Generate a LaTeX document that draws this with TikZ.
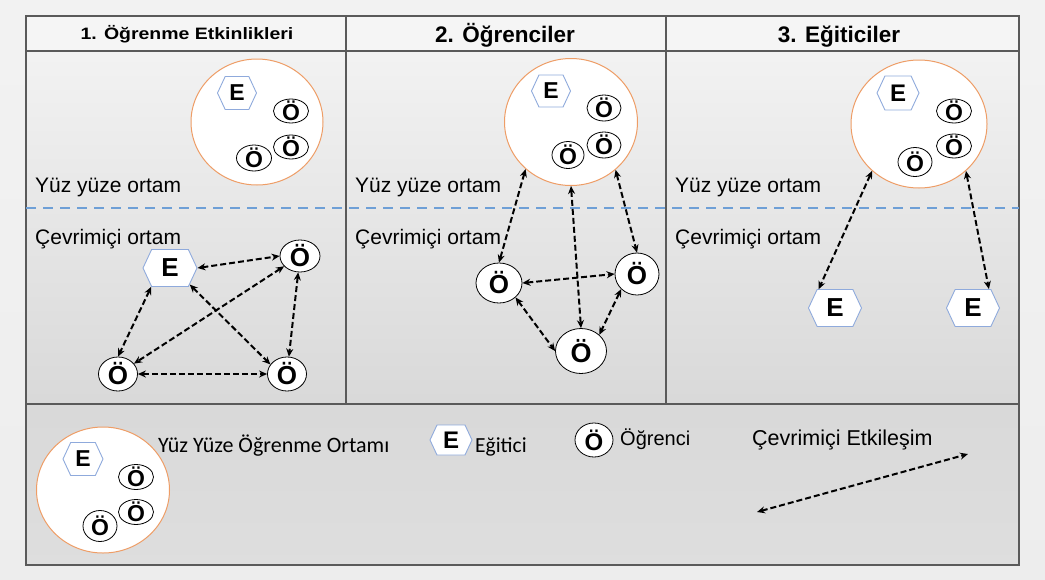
\documentclass[tikz,border=0pt]{standalone}
\usepackage{fontspec}
\setmainfont{Liberation Sans}
\newfontfamily\calfont{Carlito}
\usetikzlibrary{shapes.geometric,shapes.symbols,arrows.meta,calc}

\definecolor{ringorange}{HTML}{EE9D66}
\definecolor{hexblue}{HTML}{8FAADC}
\definecolor{splitblue}{HTML}{6E9FD6}
\definecolor{framegray}{HTML}{5A5A5A}

\begin{document}
\begin{tikzpicture}[x=1pt,y=-1pt,
  frameline/.style={draw=framegray,line width=1.1pt},
  splitline/.style={draw=splitblue,line width=2.4pt,dash pattern=on 10pt off 7pt},
  ring/.style={ellipse,draw=ringorange,fill=white,line width=1pt,inner sep=0pt},
  tutor/.style={signal,signal to=east and west,signal pointer angle=130,
    draw=hexblue,fill=white,line width=0.9pt,inner sep=0pt},
  learner/.style={ellipse,draw=black,fill=white,line width=0.8pt,inner sep=0pt},
  letter/.style={inner sep=0pt,font=\bfseries\fontsize{#1}{#1}\selectfont},
  link/.style={{Stealth[length=8pt,width=7pt]}-{Stealth[length=8pt,width=7pt]},
    line width=2pt,dash pattern=on 6pt off 3pt},
  zone/.style={anchor=base west,inner sep=0pt,font=\fontsize{21}{25}\selectfont},
  head/.style={anchor=base,inner sep=0pt,font=\bfseries\fontsize{22.5}{26}\selectfont},
  legtext/.style={anchor=base west,inner sep=0pt}
]
\useasboundingbox (0,0) rectangle (1045,579);

% page and panel backgrounds
\shade[top color=black!5,bottom color=black!7] (0,0) rectangle (1045,579);
\fill[black!4] (26,16) rectangle (1019,51);
\shade[top color=black!5,bottom color=black!15] (26,51) rectangle (1019,404);
\shade[top color=black!15,bottom color=black!13] (26,404) rectangle (1019,565);

% table lines
\draw[frameline] (26,16) rectangle (1019,565);
\draw[frameline] (26,51) -- (1019,51);
\draw[frameline] (26,404) -- (1019,404);
\draw[frameline] (346,16) -- (346,404);
\draw[frameline] (666,16) -- (666,404);
\draw[splitline] (26,208) -- (1019,208);

% column headings
\node[anchor=base,inner sep=0pt,font=\bfseries\fontsize{16.5}{19}\selectfont] (h1) at (187,39) {\scalebox{1.18}[1]{1. Öğrenme Etkinlikleri}};
\node[head] (h2) at (505,42) {2. Öğrenciler};
\node[head] (h3) at (839,42) {3. Eğiticiler};

% environment labels
\node[zone] (f1) at (35,192) {Yüz yüze ortam};
\node[zone] (o1) at (35,244) {Çevrimiçi ortam};
\node[zone] (f2) at (355,192) {Yüz yüze ortam};
\node[zone] (o2) at (355,244) {Çevrimiçi ortam};
\node[zone] (f3) at (675,192) {Yüz yüze ortam};
\node[zone] (o3) at (675,244) {Çevrimiçi ortam};

% ---- column 1: learning activities ----
\node[ring,minimum width=132,minimum height=126] (c1) at (257,122) {};
\node[tutor,minimum width=39,minimum height=33,label={[letter=23]center:E}] (c1e) at (237,93) {};
\node[learner,minimum width=35,minimum height=24,label={[letter=23]center:Ö}] (c1a) at (291,111) {};
\node[learner,minimum width=35,minimum height=24,label={[letter=23]center:Ö}] (c1b) at (291,147) {};
\node[learner,minimum width=35,minimum height=26,label={[letter=23]center:Ö}] (c1c) at (254,158) {};

\node[tutor,minimum width=54,minimum height=37,label={[letter=26]center:E}] (e1) at (170,268) {};
\node[learner,minimum width=40,minimum height=32,label={[letter=26]center:Ö}] (s1t) at (300,256) {};
\node[learner,minimum width=39,minimum height=34,label={[letter=26]center:Ö}] (s1l) at (118,374) {};
\node[learner,minimum width=39,minimum height=34,label={[letter=26]center:Ö}] (s1r) at (287,374) {};

\draw[link] (e1.east) -- (s1t.west);
\draw[link] (e1.225) -- (s1l.north);
\draw[link] (e1.-40) -- (s1r.150);
\draw[link] (s1t) -- (s1l);
\draw[link] (s1t) -- (s1r);
\draw[link] (s1l.east) -- (s1r.west);

% ---- column 2: learners ----
\node[ring,minimum width=133,minimum height=127] (c2) at (571,122) {};
\node[tutor,minimum width=39,minimum height=32,label={[letter=23]center:E}] (c2e) at (551,91) {};
\node[learner,minimum width=34,minimum height=26,label={[letter=23]center:Ö}] (c2a) at (604,108) {};
\node[learner,minimum width=34,minimum height=26,label={[letter=23]center:Ö}] (c2b) at (604,145) {};
\node[learner,minimum width=32,minimum height=27,label={[letter=23]center:Ö}] (c2c) at (568,155) {};

\node[learner,minimum width=46,minimum height=40,label={[letter=26]center:Ö}] (s2l) at (499,283) {};
\node[learner,minimum width=44,minimum height=42,label={[letter=26]center:Ö}] (s2r) at (637,274) {};
\node[learner,minimum width=51,minimum height=45,label={[letter=27]center:Ö}] (s2b) at (581,351) {};

\draw[link] (c2.226) -- (s2l.north);
\draw[link] (c2.south) -- (s2b.north);
\draw[link] (c2.313) -- (s2r.north);
\draw[link] (s2l.east) -- (s2r.west);
\draw[link] (s2l.south east) -- (s2b.west);
\draw[link] (s2r.south west) -- (s2b.north east);

% ---- column 3: instructors ----
\node[ring,minimum width=136,minimum height=128] (c3) at (919,124) {};
\node[tutor,minimum width=42,minimum height=34,label={[letter=24]center:E}] (c3e) at (898,93) {};
\node[learner,minimum width=35,minimum height=24,label={[letter=23]center:Ö}] (c3a) at (954,111) {};
\node[learner,minimum width=35,minimum height=24,label={[letter=23]center:Ö}] (c3b) at (954,146) {};
\node[learner,minimum width=34,minimum height=29,label={[letter=23]center:Ö}] (c3c) at (915,162) {};

\node[tutor,minimum width=53,minimum height=37,label={[letter=26]center:E}] (e3l) at (835,308) {};
\node[tutor,minimum width=53,minimum height=37,label={[letter=26]center:E}] (e3r) at (973,308) {};

\draw[link] (c3.225) -- (e3l.131);
\draw[link] (c3.315) -- (e3r.50);

% ---- legend ----
\node[ring,minimum width=133,minimum height=126] (lc) at (103,490) {};
\node[tutor,minimum width=40,minimum height=33,label={[letter=23]center:E}] (lce) at (83,459) {};
\node[learner,minimum width=35,minimum height=25,label={[letter=23]center:Ö}] (lca) at (136,477) {};
\node[learner,minimum width=35,minimum height=25,label={[letter=23]center:Ö}] (lcb) at (136,512) {};
\node[learner,minimum width=34,minimum height=31,label={[letter=23]center:Ö}] (lcc) at (100,526) {};
\node[legtext,font=\calfont\fontsize{22}{26}\selectfont] (lt1) at (158,452) {Yüz Yüze Öğrenme Ortamı};

\node[tutor,minimum width=42,minimum height=30,label={[letter=24]center:E}] (le) at (451,440) {};
\node[legtext,font=\calfont\fontsize{21.5}{25}\selectfont] (lt2) at (475,452) {Eğitici};

\node[learner,minimum width=38,minimum height=34,label={[letter=24]center:Ö}] (ls) at (594,440) {};
\node[legtext,font=\fontsize{20}{24}\selectfont] (lt3) at (620,445) {Öğrenci};

\node[legtext,font=\fontsize{21.5}{25}\selectfont] (lt4) at (752,445) {Çevrimiçi Etkileşim};
\coordinate (la) at (757,512);
\coordinate (lb) at (968,454);
\draw[link] (la) -- (lb);
\end{tikzpicture}
\end{document}
